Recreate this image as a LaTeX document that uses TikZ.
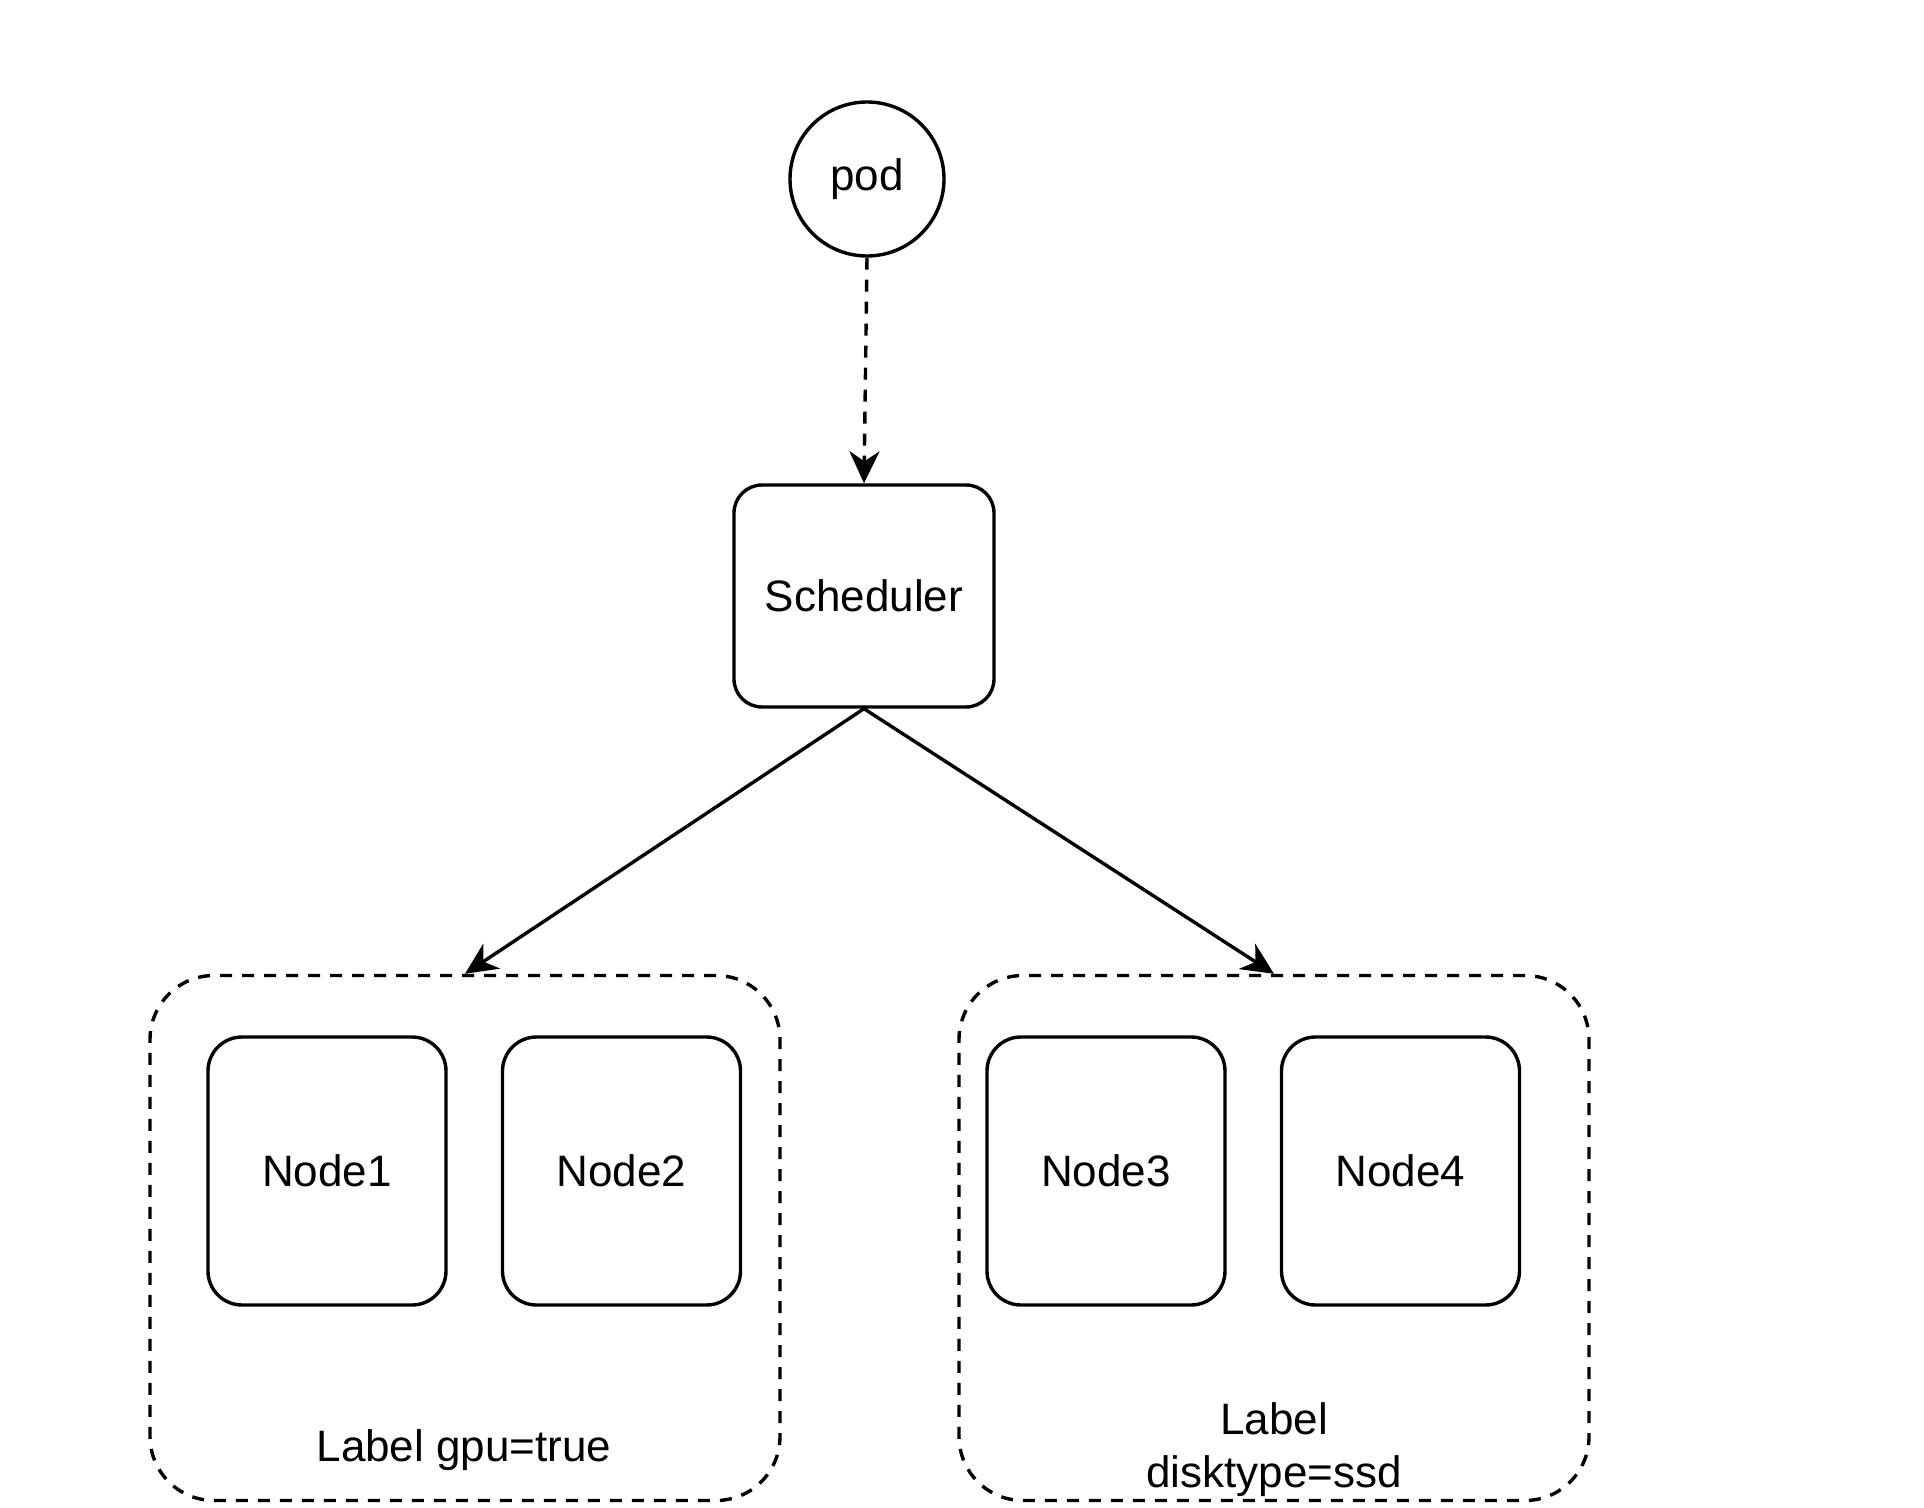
\documentclass[tikz,border=0pt]{standalone}
\usepackage{fontspec}
\setmainfont{Liberation Sans}
\usetikzlibrary{arrows.meta}
\begin{document}
\begin{tikzpicture}[x=0.5pt,y=-0.5pt,
  every node/.style={font=\fontsize{22}{26.5}\selectfont, inner sep=0pt, align=center},
  nodebox/.style={draw, line width=1.7pt, rounded corners=17pt, minimum width=119pt, minimum height=134pt},
  schedbox/.style={draw, line width=1.7pt, rounded corners=14pt, minimum width=130pt, minimum height=111pt},
  podcirc/.style={draw, circle, line width=1.7pt, minimum size=77pt},
  groupbox/.style={draw, line width=1.7pt, dash pattern=on 6pt off 5pt, rounded corners=32pt, minimum width=315pt, minimum height=262.5pt},
  arr/.style={line width=1.7pt, -{Stealth[length=16pt,width=15pt,inset=5pt]}},
  dasharr/.style={arr, dash pattern=on 6pt off 5pt}
]
\useasboundingbox (0,0) rectangle (1924,1508);
\node[podcirc] (pod) at (867,179) {pod};
\node[schedbox] (sched) at (864,596) {Scheduler};
\node[groupbox] (g1) at (465,1238) {};
\node[groupbox] (g2) at (1274,1238) {};
\node[nodebox] (n1) at (327,1171) {Node1};
\node[nodebox] (n2) at (621.5,1171) {Node2};
\node[nodebox] (n3) at (1106,1171) {Node3};
\node[nodebox] (n4) at (1400.5,1171) {Node4};
\node (l1) at (464,1450) {Label gpu=true};
\node (l2) at (1274,1450) {Label\\disktype=ssd};
\draw[dasharr] (pod.south) -- (sched.north);
\draw[arr] (sched.south) -- (g1.north);
\draw[arr] (sched.south) -- (g2.north);
\end{tikzpicture}
\end{document}
